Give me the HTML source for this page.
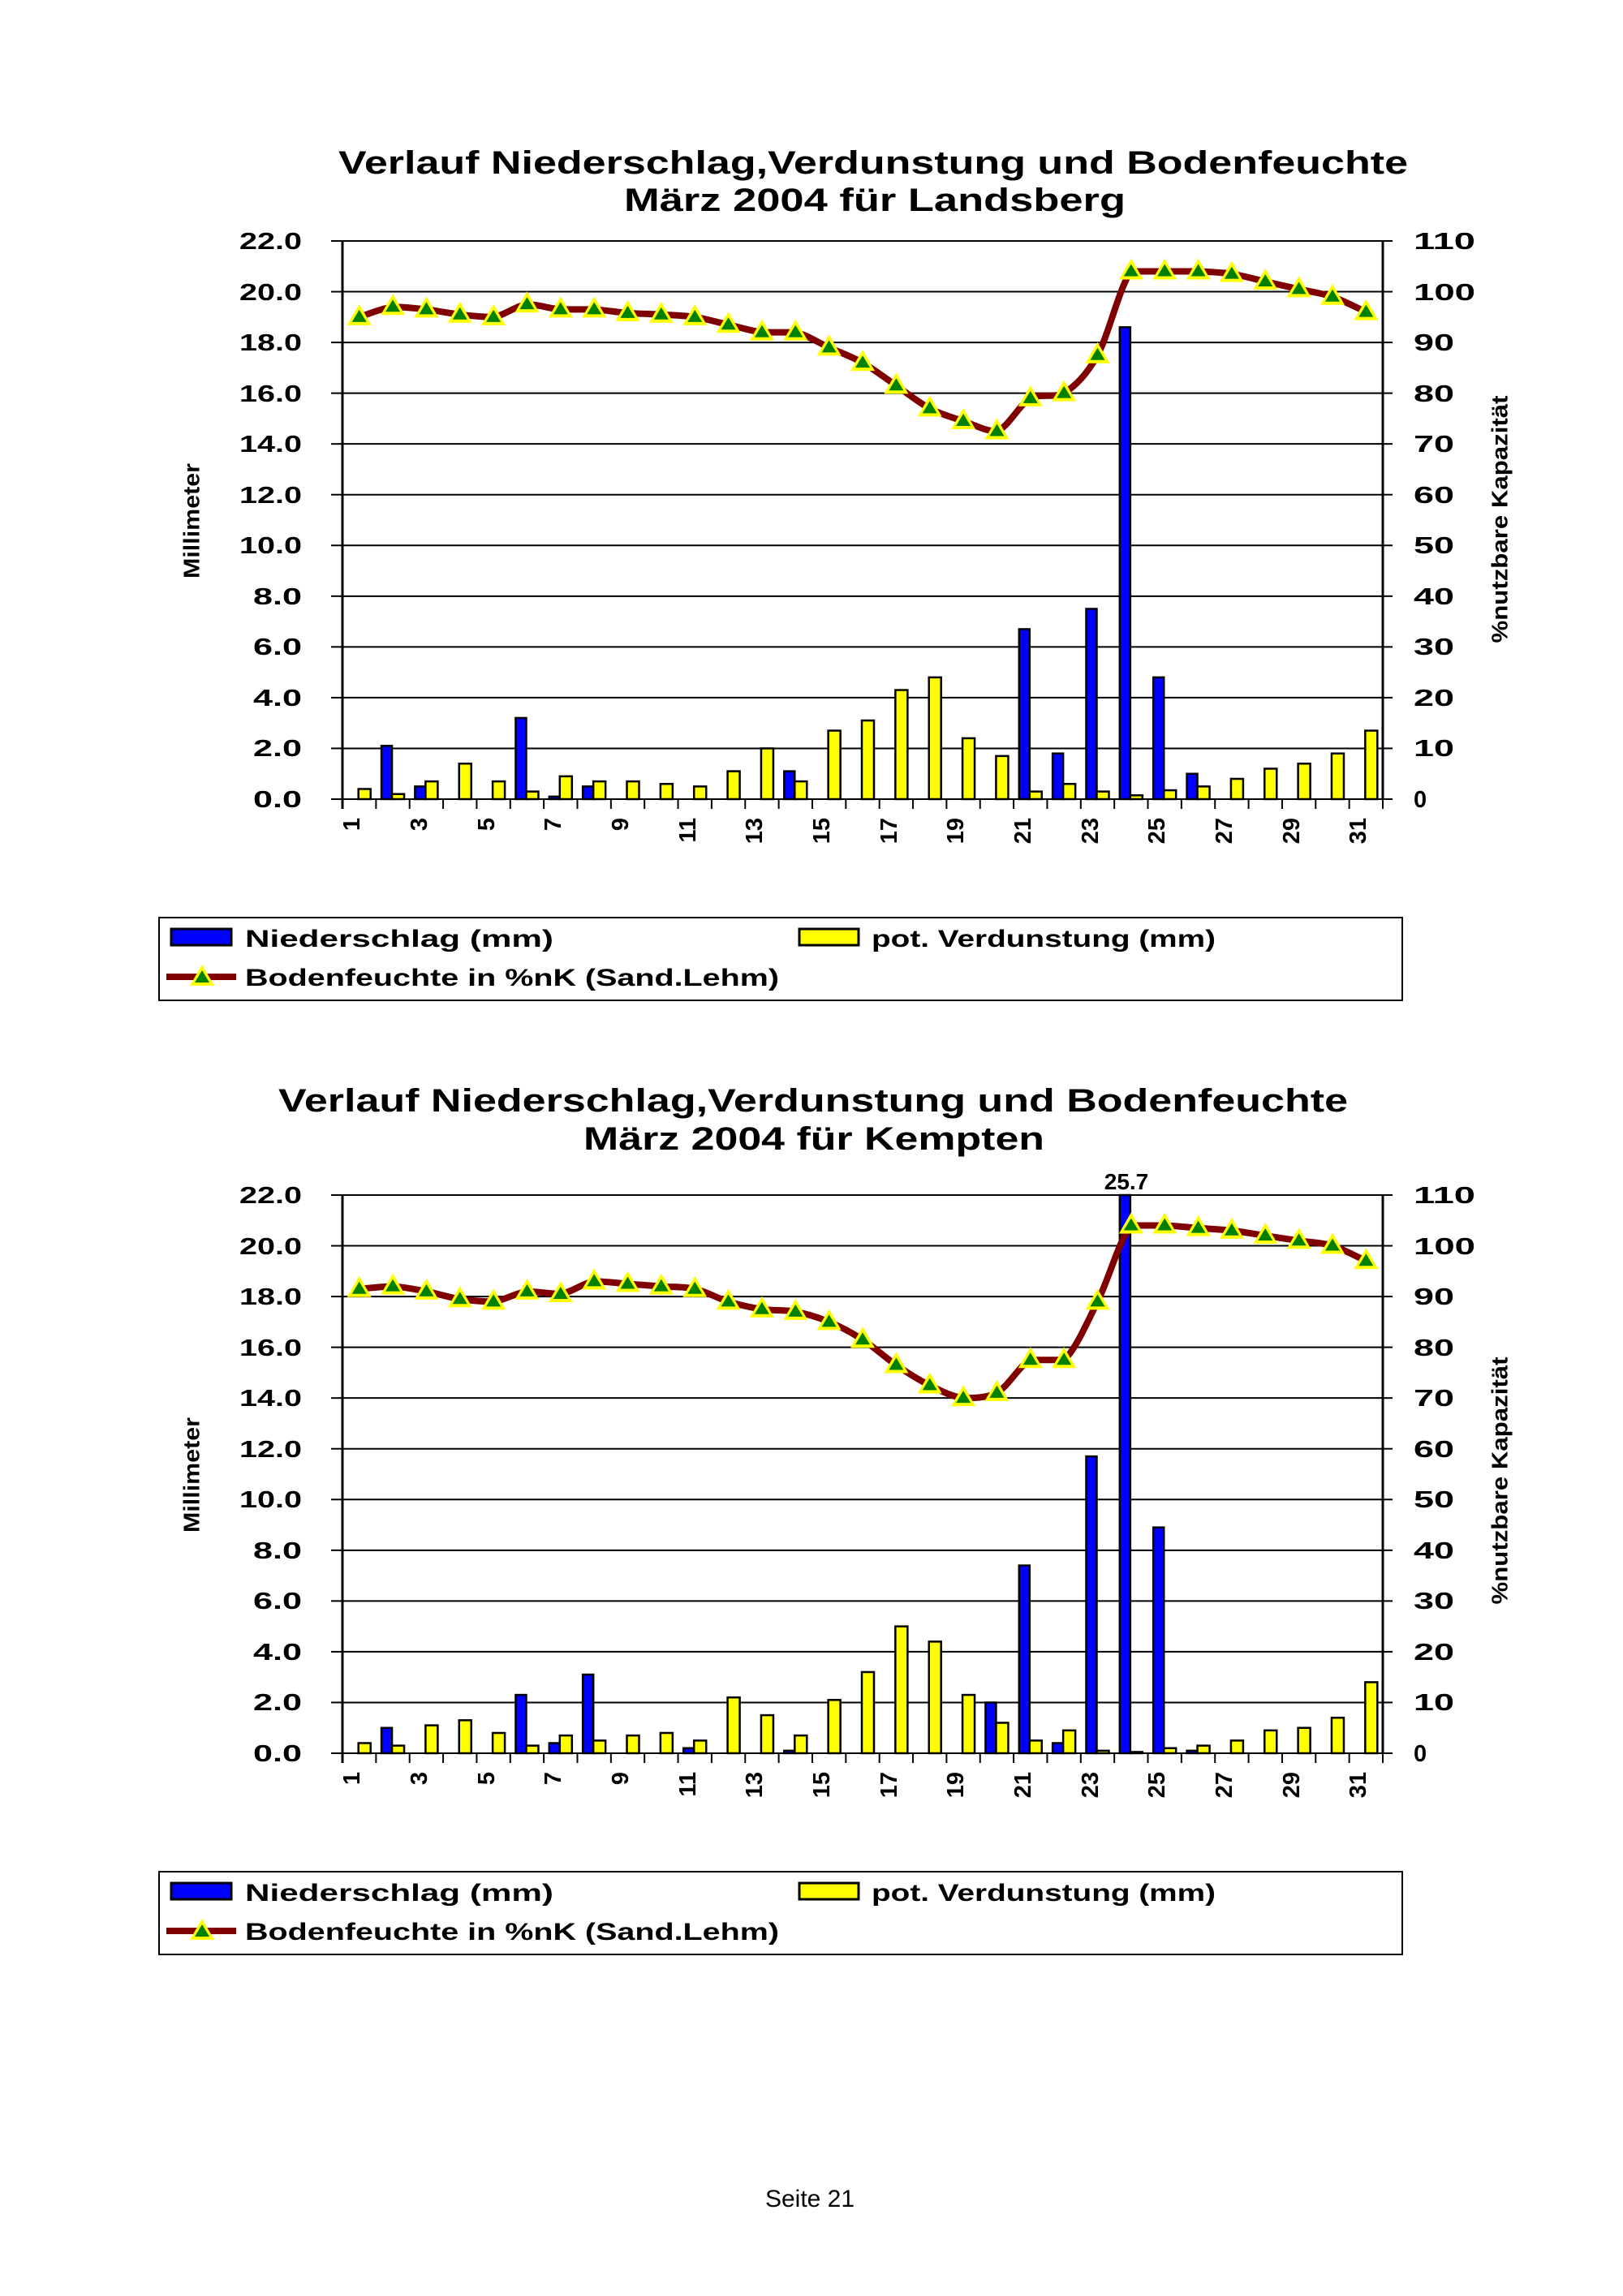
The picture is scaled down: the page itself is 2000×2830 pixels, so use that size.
<!DOCTYPE html>
<html><head><meta charset="utf-8"><style>
html,body{margin:0;padding:0;background:#fff;}
svg{display:block;}
text{font-family:"Liberation Sans",Arial,sans-serif;font-weight:bold;fill:#000;}
</style></head><body>
<svg id="s" width="2000" height="2830" viewBox="0 0 2000 2830" xmlns="http://www.w3.org/2000/svg">
<rect width="2000" height="2830" fill="#fff"/>
<!-- Chart 1 text -->
<text x="1076" y="214" font-size="40" text-anchor="middle" textLength="1318" lengthAdjust="spacingAndGlyphs">Verlauf Niederschlag,Verdunstung und Bodenfeuchte</text>
<text x="1078" y="260" font-size="40" text-anchor="middle" textLength="618" lengthAdjust="spacingAndGlyphs">März 2004 für Landsberg</text>
<g font-size="29" text-anchor="end">
<text x="372" y="307" textLength="77" lengthAdjust="spacingAndGlyphs">22.0</text>
<text x="372" y="370" textLength="77" lengthAdjust="spacingAndGlyphs">20.0</text>
<text x="372" y="432" textLength="77" lengthAdjust="spacingAndGlyphs">18.0</text>
<text x="372" y="495" textLength="77" lengthAdjust="spacingAndGlyphs">16.0</text>
<text x="372" y="557" textLength="77" lengthAdjust="spacingAndGlyphs">14.0</text>
<text x="372" y="620" textLength="77" lengthAdjust="spacingAndGlyphs">12.0</text>
<text x="372" y="682" textLength="77" lengthAdjust="spacingAndGlyphs">10.0</text>
<text x="372" y="745" textLength="60" lengthAdjust="spacingAndGlyphs">8.0</text>
<text x="372" y="807" textLength="60" lengthAdjust="spacingAndGlyphs">6.0</text>
<text x="372" y="870" textLength="60" lengthAdjust="spacingAndGlyphs">4.0</text>
<text x="372" y="932" textLength="60" lengthAdjust="spacingAndGlyphs">2.0</text>
<text x="372" y="995" textLength="60" lengthAdjust="spacingAndGlyphs">0.0</text>
</g>
<g font-size="29">
<text x="1742" y="307" textLength="76" lengthAdjust="spacingAndGlyphs">110</text>
<text x="1742" y="370" textLength="76" lengthAdjust="spacingAndGlyphs">100</text>
<text x="1742" y="432" textLength="50" lengthAdjust="spacingAndGlyphs">90</text>
<text x="1742" y="495" textLength="50" lengthAdjust="spacingAndGlyphs">80</text>
<text x="1742" y="557" textLength="50" lengthAdjust="spacingAndGlyphs">70</text>
<text x="1742" y="620" textLength="50" lengthAdjust="spacingAndGlyphs">60</text>
<text x="1742" y="682" textLength="50" lengthAdjust="spacingAndGlyphs">50</text>
<text x="1742" y="745" textLength="50" lengthAdjust="spacingAndGlyphs">40</text>
<text x="1742" y="807" textLength="50" lengthAdjust="spacingAndGlyphs">30</text>
<text x="1742" y="870" textLength="50" lengthAdjust="spacingAndGlyphs">20</text>
<text x="1742" y="932" textLength="50" lengthAdjust="spacingAndGlyphs">10</text>
<text x="1742" y="995">0</text>
</g>
<text transform="translate(236,642) rotate(-90)" font-size="28" text-anchor="middle" dominant-baseline="central" textLength="142" lengthAdjust="spacingAndGlyphs">Millimeter</text>
<text transform="translate(1848,640) rotate(-90)" font-size="28" text-anchor="middle" dominant-baseline="central" textLength="305" lengthAdjust="spacingAndGlyphs">%nutzbare Kapazität</text>
<g font-size="29" text-anchor="end" dominant-baseline="central">
<text transform="translate(434,1008) rotate(-90)">1</text>
<text transform="translate(517,1008) rotate(-90)">3</text>
<text transform="translate(600,1008) rotate(-90)">5</text>
<text transform="translate(682,1008) rotate(-90)">7</text>
<text transform="translate(765,1008) rotate(-90)">9</text>
<text transform="translate(848,1008) rotate(-90)">11</text>
<text transform="translate(930,1008) rotate(-90)">13</text>
<text transform="translate(1013,1008) rotate(-90)">15</text>
<text transform="translate(1096,1008) rotate(-90)">17</text>
<text transform="translate(1178,1008) rotate(-90)">19</text>
<text transform="translate(1261,1008) rotate(-90)">21</text>
<text transform="translate(1344,1008) rotate(-90)">23</text>
<text transform="translate(1426,1008) rotate(-90)">25</text>
<text transform="translate(1509,1008) rotate(-90)">27</text>
<text transform="translate(1592,1008) rotate(-90)">29</text>
<text transform="translate(1674,1008) rotate(-90)">31</text>
</g>
<rect x="196" y="1131" width="1532" height="102" fill="none" stroke="#000" stroke-width="2"/>
<rect x="211" y="1145" width="74" height="20" fill="#0000ff" stroke="#000" stroke-width="3"/>
<text x="302" y="1167" font-size="30" textLength="380" lengthAdjust="spacingAndGlyphs">Niederschlag (mm)</text>
<rect x="985" y="1145" width="73" height="20" fill="#ffff00" stroke="#000" stroke-width="3"/>
<text x="1074" y="1167" font-size="30" textLength="424" lengthAdjust="spacingAndGlyphs">pot. Verdunstung (mm)</text>
<line x1="205" y1="1204" x2="291" y2="1204" stroke="#800000" stroke-width="8"/>
<polygon points="249,1189 264,1215 234,1215" fill="#ffff00"/><polygon points="249,1196 258,1211 240,1211" fill="#008000"/>
<text x="302" y="1215" font-size="30" textLength="658" lengthAdjust="spacingAndGlyphs">Bodenfeuchte in %nK (Sand.Lehm)</text>

<!-- Chart 2 text -->
<text x="1002" y="1370" font-size="40" text-anchor="middle" textLength="1318" lengthAdjust="spacingAndGlyphs">Verlauf Niederschlag,Verdunstung und Bodenfeuchte</text>
<text x="1003" y="1417" font-size="40" text-anchor="middle" textLength="568" lengthAdjust="spacingAndGlyphs">März 2004 für Kempten</text>
<text x="1388" y="1466" font-size="28" text-anchor="middle">25.7</text>
<g font-size="29" text-anchor="end">
<text x="372" y="1483" textLength="77" lengthAdjust="spacingAndGlyphs">22.0</text>
<text x="372" y="1546" textLength="77" lengthAdjust="spacingAndGlyphs">20.0</text>
<text x="372" y="1608" textLength="77" lengthAdjust="spacingAndGlyphs">18.0</text>
<text x="372" y="1671" textLength="77" lengthAdjust="spacingAndGlyphs">16.0</text>
<text x="372" y="1733" textLength="77" lengthAdjust="spacingAndGlyphs">14.0</text>
<text x="372" y="1796" textLength="77" lengthAdjust="spacingAndGlyphs">12.0</text>
<text x="372" y="1858" textLength="77" lengthAdjust="spacingAndGlyphs">10.0</text>
<text x="372" y="1921" textLength="60" lengthAdjust="spacingAndGlyphs">8.0</text>
<text x="372" y="1983" textLength="60" lengthAdjust="spacingAndGlyphs">6.0</text>
<text x="372" y="2046" textLength="60" lengthAdjust="spacingAndGlyphs">4.0</text>
<text x="372" y="2108" textLength="60" lengthAdjust="spacingAndGlyphs">2.0</text>
<text x="372" y="2171" textLength="60" lengthAdjust="spacingAndGlyphs">0.0</text>
</g>
<g font-size="29">
<text x="1742" y="1483" textLength="76" lengthAdjust="spacingAndGlyphs">110</text>
<text x="1742" y="1546" textLength="76" lengthAdjust="spacingAndGlyphs">100</text>
<text x="1742" y="1608" textLength="50" lengthAdjust="spacingAndGlyphs">90</text>
<text x="1742" y="1671" textLength="50" lengthAdjust="spacingAndGlyphs">80</text>
<text x="1742" y="1733" textLength="50" lengthAdjust="spacingAndGlyphs">70</text>
<text x="1742" y="1796" textLength="50" lengthAdjust="spacingAndGlyphs">60</text>
<text x="1742" y="1858" textLength="50" lengthAdjust="spacingAndGlyphs">50</text>
<text x="1742" y="1921" textLength="50" lengthAdjust="spacingAndGlyphs">40</text>
<text x="1742" y="1983" textLength="50" lengthAdjust="spacingAndGlyphs">30</text>
<text x="1742" y="2046" textLength="50" lengthAdjust="spacingAndGlyphs">20</text>
<text x="1742" y="2108" textLength="50" lengthAdjust="spacingAndGlyphs">10</text>
<text x="1742" y="2171">0</text>
</g>
<text transform="translate(236,1818) rotate(-90)" font-size="28" text-anchor="middle" dominant-baseline="central" textLength="142" lengthAdjust="spacingAndGlyphs">Millimeter</text>
<text transform="translate(1848,1825) rotate(-90)" font-size="28" text-anchor="middle" dominant-baseline="central" textLength="305" lengthAdjust="spacingAndGlyphs">%nutzbare Kapazität</text>
<g font-size="29" text-anchor="end" dominant-baseline="central">
<text transform="translate(434,2184) rotate(-90)">1</text>
<text transform="translate(517,2184) rotate(-90)">3</text>
<text transform="translate(600,2184) rotate(-90)">5</text>
<text transform="translate(682,2184) rotate(-90)">7</text>
<text transform="translate(765,2184) rotate(-90)">9</text>
<text transform="translate(848,2184) rotate(-90)">11</text>
<text transform="translate(930,2184) rotate(-90)">13</text>
<text transform="translate(1013,2184) rotate(-90)">15</text>
<text transform="translate(1096,2184) rotate(-90)">17</text>
<text transform="translate(1178,2184) rotate(-90)">19</text>
<text transform="translate(1261,2184) rotate(-90)">21</text>
<text transform="translate(1344,2184) rotate(-90)">23</text>
<text transform="translate(1426,2184) rotate(-90)">25</text>
<text transform="translate(1509,2184) rotate(-90)">27</text>
<text transform="translate(1592,2184) rotate(-90)">29</text>
<text transform="translate(1674,2184) rotate(-90)">31</text>
</g>
<rect x="196" y="2307" width="1532" height="102" fill="none" stroke="#000" stroke-width="2"/>
<rect x="211" y="2321" width="74" height="20" fill="#0000ff" stroke="#000" stroke-width="3"/>
<text x="302" y="2343" font-size="30" textLength="380" lengthAdjust="spacingAndGlyphs">Niederschlag (mm)</text>
<rect x="985" y="2321" width="73" height="20" fill="#ffff00" stroke="#000" stroke-width="3"/>
<text x="1074" y="2343" font-size="30" textLength="424" lengthAdjust="spacingAndGlyphs">pot. Verdunstung (mm)</text>
<line x1="205" y1="2380" x2="291" y2="2380" stroke="#800000" stroke-width="8"/>
<polygon points="249,2365 264,2391 234,2391" fill="#ffff00"/><polygon points="249,2372 258,2387 240,2387" fill="#008000"/>
<text x="302" y="2391" font-size="30" textLength="658" lengthAdjust="spacingAndGlyphs">Bodenfeuchte in %nK (Sand.Lehm)</text>

<text x="998" y="2720" font-size="30" style="font-weight:normal" text-anchor="middle">Seite 21</text>
<g id="g1"></g><g id="g2"></g>
</svg>
<script>
var NS="http://www.w3.org/2000/svg";
function el(p,t,a){var e=document.createElementNS(NS,t);for(var k in a)e.setAttribute(k,a[k]);p.appendChild(e);return e;}
function chart(g,top,bot,N,V,B){
 var x0=422,x1=1704,cw=(x1-x0)/31,h=bot-top,u=h/22;
 for(var k=0;k<=11;k++){var y=bot-k*2*u;el(g,"line",{x1:x0,x2:x1,y1:y,y2:y,stroke:"#000","stroke-width":2});
  el(g,"line",{x1:x0-14,x2:x0,y1:y,y2:y,stroke:"#000","stroke-width":2});
  el(g,"line",{x1:x1,x2:x1+12,y1:y,y2:y,stroke:"#000","stroke-width":2});}
 el(g,"line",{x1:x0,x2:x0,y1:top,y2:bot+12,stroke:"#000","stroke-width":3});
 el(g,"line",{x1:x1,x2:x1,y1:top,y2:bot,stroke:"#000","stroke-width":3});
 for(var i=1;i<=31;i++){var xx=x0+i*cw;el(g,"line",{x1:xx,x2:xx,y1:bot,y2:bot+12,stroke:"#000","stroke-width":2});}
 for(var i=0;i<31;i++){var c=x0+(i+0.5)*cw;
  var n=Math.min(N[i],22);if(n>0){var hh=n*u;el(g,"rect",{x:c-14,y:bot-hh,width:13,height:hh,fill:"#0000ff",stroke:"#000","stroke-width":2.5});}
  var v=V[i];if(v>0){var hh=v*u;el(g,"rect",{x:c-1,y:bot-hh,width:15,height:hh,fill:"#ffff00",stroke:"#000","stroke-width":2.5});}}
 var P=B.map(function(b,i){return [x0+(i+0.5)*cw,bot-b/110*h];});
 var d="M"+P[0][0]+","+P[0][1];
 function cl(v,a,b){var lo=Math.min(a,b),hi=Math.max(a,b);return Math.max(lo,Math.min(hi,v));}
 for(var i=0;i<P.length-1;i++){var p0=P[Math.max(i-1,0)],p1=P[i],p2=P[i+1],p3=P[Math.min(i+2,P.length-1)];
  var c1y=cl(p1[1]+(p2[1]-p0[1])/6,p1[1],p2[1]),c2y=cl(p2[1]-(p3[1]-p1[1])/6,p1[1],p2[1]);
  d+=" C"+(p1[0]+(p2[0]-p0[0])/6)+","+c1y+" "+(p2[0]-(p3[0]-p1[0])/6)+","+c2y+" "+p2[0]+","+p2[1];}
 el(g,"path",{d:d,fill:"none",stroke:"#800000","stroke-width":8});
 P.forEach(function(p){var x=p[0],y=p[1];
  el(g,"polygon",{points:(x)+","+(y-16)+" "+(x+15)+","+(y+10)+" "+(x-15)+","+(y+10),fill:"#ffff00"});
  el(g,"polygon",{points:(x)+","+(y-9)+" "+(x+9)+","+(y+6)+" "+(x-9)+","+(y+6),fill:"#008000"});});
}
chart(document.getElementById("g1"),297,985,
[0,2.1,0.5,0,0,3.2,0.1,0.5,0,0,0,0,0,1.1,0,0,0,0,0,0,6.7,1.8,7.5,18.6,4.8,1.0,0,0,0,0,0],
[0.4,0.2,0.7,1.4,0.7,0.3,0.9,0.7,0.7,0.6,0.5,1.1,2.0,0.7,2.7,3.1,4.3,4.8,2.4,1.7,0.3,0.6,0.3,0.15,0.35,0.5,0.8,1.2,1.4,1.8,2.7],
[95,97,96.5,95.5,95,97.5,96.5,96.5,95.8,95.5,95,93.5,92,92,89,86,81.5,77,74.5,72.5,79,80,87.5,104,104,104,103.5,102,100.5,99,96]);
chart(document.getElementById("g2"),1473,2161,
[0,1.0,0,0,0,2.3,0.4,3.1,0,0,0.2,0,0,0.1,0,0,0,0,0,2.0,7.4,0.4,11.7,25.7,8.9,0.1,0,0,0,0,0],
[0.4,0.3,1.1,1.3,0.8,0.3,0.7,0.5,0.7,0.8,0.5,2.2,1.5,0.7,2.1,3.2,5.0,4.4,2.3,1.2,0.5,0.9,0.1,0.05,0.2,0.3,0.5,0.9,1.0,1.4,2.8],
[91.5,92,91,89.5,89,91,90.5,93,92.5,92,91.5,89,87.5,87,85,81.5,76.5,72.5,70,71,77.5,77.5,89,104,104,103.5,103,102,101,100,97]);
</script>
</body></html>
